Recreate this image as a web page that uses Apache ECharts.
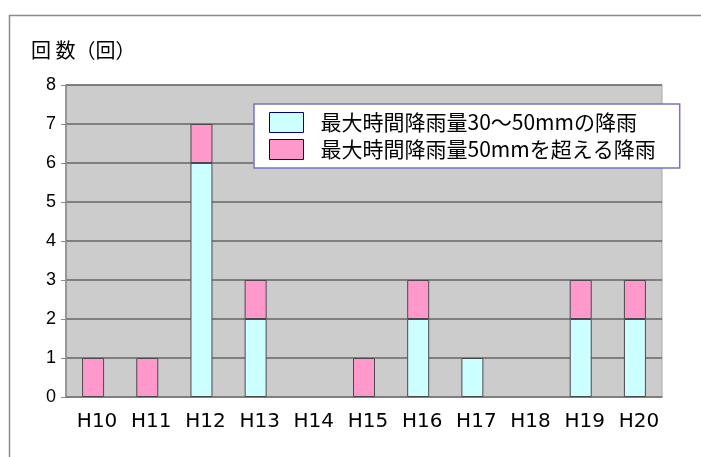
<!DOCTYPE html>
<html>
<head>
<meta charset="utf-8">
<script src="https://cdn.jsdelivr.net/npm/echarts@6/dist/echarts.min.js"></script>
<style>
  html, body { margin: 0; padding: 0; background: #ffffff; }
  #chart { width: 701px; height: 457px; }
</style>
</head>
<body>
<div id="chart"></div>
<script>
// Fiscal years (Heisei)
const years = ['H10', 'H11', 'H12', 'H13', 'H14', 'H15', 'H16', 'H17', 'H18', 'H19', 'H20'];
// Rainfall events with max hourly rainfall 30-50 mm
const rain30to50 = [0, 0, 6, 2, 0, 0, 2, 1, 0, 2, 2];
// Rainfall events with max hourly rainfall over 50 mm
const rainOver50 = [1, 1, 1, 1, 0, 1, 1, 0, 0, 1, 1];
// Y axis ticks
const yTicks = [0, 1, 2, 3, 4, 5, 6, 7, 8];

const seriesNames = ['最大時間降雨量30～50mmの降雨', '最大時間降雨量50mmを超える降雨'];
const jpFont = "'Noto Sans CJK JP', sans-serif";
const latinFont = "'Liberation Sans', Arial, sans-serif";
const wideFont = "'DejaVu Sans', sans-serif";

// empty segments are not drawn at all
const asBars = arr => arr.map(v => (v === 0 ? '-' : v));

const chart = echarts.init(document.getElementById('chart'), null, { renderer: 'canvas' });

chart.setOption({
  animation: false,
  backgroundColor: '#ffffff',
  graphic: [{
    type: 'rect',
    left: 7, top: 13,
    shape: { width: 760, height: 520 },
    style: { fill: 'none', stroke: '#8a8a8a', lineWidth: 1.5 },
    z: -10
  }],
  title: {
    text: '回 数（回）',
    left: 26, top: 35,
    textStyle: { fontFamily: jpFont, fontSize: 20, fontWeight: 'normal', color: '#000' }
  },
  legend: {
    orient: 'vertical',
    left: 254, top: 104,
    padding: [8, 24, 8, 15],
    itemGap: 6,
    itemWidth: 34,
    itemHeight: 20,
    backgroundColor: '#ffffff',
    borderColor: '#7474c4',
    borderWidth: 1.5,
    borderRadius: 0,
    icon: 'rect',
    itemStyle: { borderColor: '#000080', borderWidth: 1 },
    textStyle: { fontFamily: jpFont, fontSize: 21, color: '#000', padding: [0, 0, 0, 12] },
    data: seriesNames
  },
  grid: {
    left: 66, top: 85, width: 596, height: 312,
    show: true,
    backgroundColor: '#cccccc',
    borderColor: '#a8a8a8',
    borderWidth: 1
  },
  xAxis: {
    type: 'category',
    data: years,
    axisLine: { lineStyle: { color: '#808080', width: 1.5 } },
    axisTick: { inside: true, length: 4, lineStyle: { color: '#444' } },
    axisLabel: {
      fontFamily: wideFont, fontSize: 20, color: '#000', margin: 15,
      padding: [0, 0, 0, 8]
    },
    splitLine: { show: false }
  },
  yAxis: {
    type: 'value',
    min: yTicks[0], max: yTicks[yTicks.length - 1], interval: 1,
    axisLine: { show: true, lineStyle: { color: '#8a8a8a', width: 1.5 } },
    axisTick: { show: true, length: 5, lineStyle: { color: '#8a8a8a' } },
    axisLabel: { fontFamily: latinFont, fontSize: 18, color: '#000', margin: 10 },
    splitLine: { lineStyle: { color: '#666666', width: 1.5 } }
  },
  series: [
    {
      name: seriesNames[0],
      type: 'bar',
      stack: 'rain',
      barWidth: 22,
      data: asBars(rain30to50),
      itemStyle: { color: '#ccffff', borderColor: '#4a4a4a', borderWidth: 1 }
    },
    {
      name: seriesNames[1],
      type: 'bar',
      stack: 'rain',
      barWidth: 22,
      data: asBars(rainOver50),
      itemStyle: { color: '#ff99cc', borderColor: '#4a4a4a', borderWidth: 1 }
    }
  ]
});
</script>
</body>
</html>
